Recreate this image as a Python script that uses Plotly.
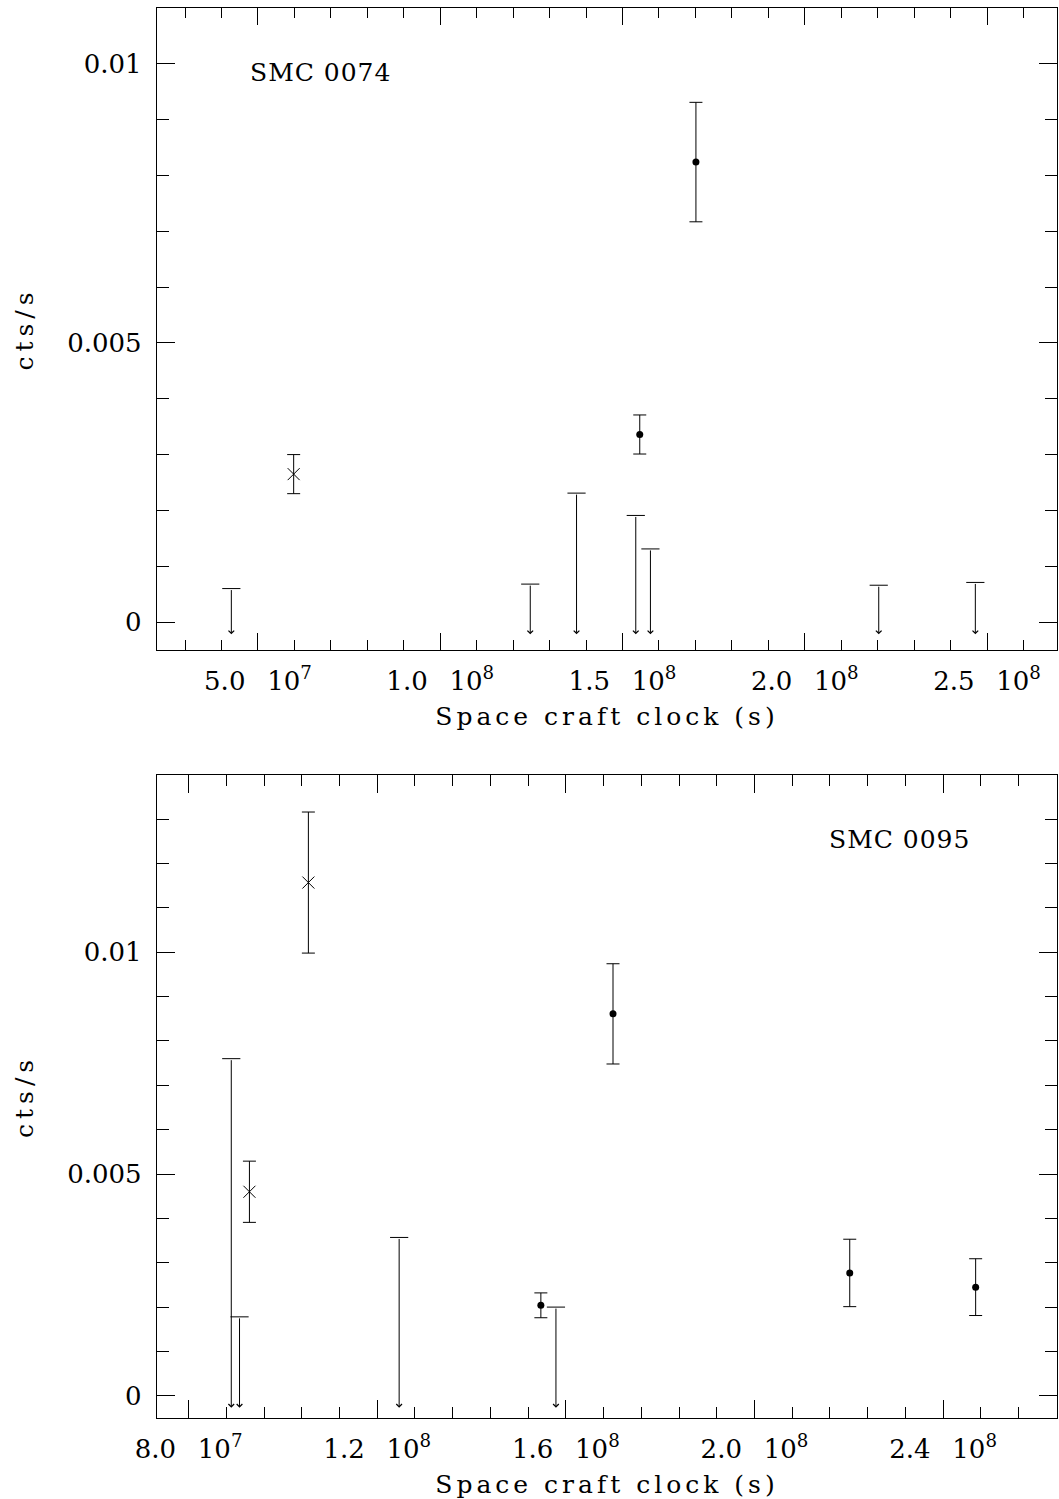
import plotly.graph_objects as go

# ---------------- SMC 0074 (upper panel) ----------------
ul_x_0074 = [4.27e7, 1.247e8, 1.374e8, 1.5365e8, 1.5767e8, 2.203e8, 2.468e8]
ul_y_0074 = [0.00060, 0.00068, 0.00231, 0.00191, 0.00131, 0.00066, 0.00071]
cross_x_0074 = [5.98e7]
cross_y_0074 = [0.00265]
cross_err_0074 = [0.00035]
dot_x_0074 = [1.5474e8, 1.7015e8]
dot_y_0074 = [0.00336, 0.00824]
dot_err_0074 = [0.00035, 0.00107]

# ---------------- SMC 0095 (lower panel) ----------------
ul_x_0095 = [8.905e7, 9.08e7, 1.2465e8, 1.579e8]
ul_y_0095 = [0.00760, 0.00178, 0.00357, 0.00200]
cross_x_0095 = [9.29e7, 1.054e8]
cross_y_0095 = [0.00460, 0.01157]
cross_err_0095 = [0.00069, 0.00159]
dot_x_0095 = [1.547e8, 1.700e8, 2.202e8, 2.469e8]
dot_y_0095 = [0.00204, 0.00861, 0.00277, 0.00245]
dot_err_0095 = [0.00028, 0.00113, 0.00076, 0.00064]

# tick labels
GAP = "  \u2009"
xtick_vals_0074 = [5e7, 1.0e8, 1.5e8, 2.0e8, 2.5e8]
xtick_text_0074 = [f"5.0{GAP}10<sup>7</sup>", f"1.0{GAP}10<sup>8</sup>", f"1.5{GAP}10<sup>8</sup>",
                   f"2.0{GAP}10<sup>8</sup>", f"2.5{GAP}10<sup>8</sup>"]
xtick_vals_0095 = [8e7, 1.2e8, 1.6e8, 2.0e8, 2.4e8]
xtick_text_0095 = [f"8.0{GAP}10<sup>7</sup>", f"1.2{GAP}10<sup>8</sup>", f"1.6{GAP}10<sup>8</sup>",
                   f"2.0{GAP}10<sup>8</sup>", f"2.4{GAP}10<sup>8</sup>"]
ytick_vals = [0, 0.005, 0.01]
ytick_text = ["0", "0.005", "0.01"]

FONT = "DejaVu Serif"
BLACK = "black"

panels = [
    dict(name="SMC 0074", xa="x", ya="y",
         ul_x=ul_x_0074, ul_y=ul_y_0074, arrow_tip=-0.00022,
         cx=cross_x_0074, cy=cross_y_0074, ce=cross_err_0074,
         dx=dot_x_0074, dy=dot_y_0074, de=dot_err_0074,
         label_pos=(4.74e7, 0.00984)),
    dict(name="SMC 0095", xa="x2", ya="y2",
         ul_x=ul_x_0095, ul_y=ul_y_0095, arrow_tip=-0.00027,
         cx=cross_x_0095, cy=cross_y_0095, ce=cross_err_0095,
         dx=dot_x_0095, dy=dot_y_0095, de=dot_err_0095,
         label_pos=(2.1535e8, 0.01254)),
]

fig = go.Figure()
annotations = []

for p in panels:
    # detections shown with a cross
    fig.add_trace(go.Scatter(
        x=p["cx"], y=p["cy"], mode="markers", xaxis=p["xa"], yaxis=p["ya"],
        marker=dict(symbol="x-thin-open", size=12, color=BLACK, line=dict(width=1, color=BLACK)),
        error_y=dict(type="data", array=p["ce"], color=BLACK, thickness=1, width=6.5),
        showlegend=False))
    # detections shown with a filled dot
    fig.add_trace(go.Scatter(
        x=p["dx"], y=p["dy"], mode="markers", xaxis=p["xa"], yaxis=p["ya"],
        marker=dict(symbol="circle", size=7, color=BLACK),
        error_y=dict(type="data", array=p["de"], color=BLACK, thickness=1, width=6.5),
        showlegend=False))
    # upper limits: horizontal cap ...
    fig.add_trace(go.Scatter(
        x=p["ul_x"], y=p["ul_y"], mode="markers", xaxis=p["xa"], yaxis=p["ya"],
        marker=dict(symbol="line-ew-open", size=13, color=BLACK, line=dict(width=1, color=BLACK)),
        showlegend=False))
    # ... and a downward arrow
    for ux, uy in zip(p["ul_x"], p["ul_y"]):
        annotations.append(dict(
            x=ux, y=p["arrow_tip"], ax=ux, ay=uy,
            xref=p["xa"], yref=p["ya"], axref=p["xa"], ayref=p["ya"],
            text="", showarrow=True, arrowhead=4, arrowsize=1.1,
            arrowwidth=1, arrowcolor=BLACK, standoff=0))
    # source name
    annotations.append(dict(
        x=p["label_pos"][0], y=p["label_pos"][1], xref=p["xa"], yref=p["ya"],
        text=f'<span style="letter-spacing:1px">{p["name"]}</span>', showarrow=False,
        xanchor="left", yanchor="middle",
        font=dict(family=FONT, size=25, color=BLACK)))

axis_common = dict(
    showline=True, linecolor=BLACK, linewidth=1.3, mirror="allticks",
    showgrid=False, zeroline=False,
    ticks="inside", tickcolor=BLACK, tickwidth=1.3,
    tickfont=dict(family=FONT, size=26, color=BLACK),
)

xtitle = dict(text='<span style="letter-spacing:4px">Space craft clock (s)</span>',
              font=dict(family=FONT, size=25, color=BLACK), standoff=12)
ytitle = dict(text='<span style="letter-spacing:5px">cts/s</span>',
              font=dict(family=FONT, size=25, color=BLACK), standoff=26)

fig.update_layout(
    width=1059, height=1499,
    margin=dict(l=157, r=2, t=8, b=81),
    paper_bgcolor="white", plot_bgcolor="white",
    showlegend=False,
    annotations=annotations,
    xaxis=dict(axis_common, anchor="y", domain=[0, 1], range=[2.231e7, 2.692e8],
               tickmode="array", tickvals=xtick_vals_0074, ticktext=xtick_text_0074,
               ticklen=17, ticklabelstandoff=8,
               minor=dict(ticks="inside", ticklen=10, tick0=0, dtick=1e7,
                          tickcolor=BLACK, tickwidth=1.3, showgrid=False),
               title=xtitle),
    yaxis=dict(axis_common, anchor="x", domain=[0.5447, 1], range=[-0.0005, 0.011],
               tickmode="array", tickvals=ytick_vals, ticktext=ytick_text,
               ticklen=18, ticklabelstandoff=9,
               minor=dict(ticks="inside", ticklen=12, tick0=0, dtick=0.001,
                          tickcolor=BLACK, tickwidth=1.3, showgrid=False),
               title=ytitle),
    xaxis2=dict(axis_common, anchor="y2", domain=[0, 1], range=[7.33e7, 2.6415e8],
                tickmode="array", tickvals=xtick_vals_0095, ticktext=xtick_text_0095,
                ticklen=18, ticklabelstandoff=8,
                minor=dict(ticks="inside", ticklen=11, tick0=0, dtick=8e6,
                           tickcolor=BLACK, tickwidth=1.3, showgrid=False),
                title=xtitle),
    yaxis2=dict(axis_common, anchor="x2", domain=[0, 0.4562], range=[-0.0005, 0.014],
                tickmode="array", tickvals=ytick_vals, ticktext=ytick_text,
                ticklen=18, ticklabelstandoff=9,
                minor=dict(ticks="inside", ticklen=12, tick0=0, dtick=0.001,
                           tickcolor=BLACK, tickwidth=1.3, showgrid=False),
                title=ytitle),
)

fig.write_html("out.html")
